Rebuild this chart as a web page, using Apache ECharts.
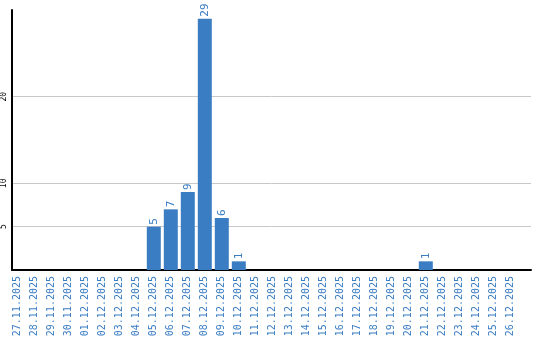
<!DOCTYPE html>
<html>
<head>
<meta charset="utf-8">
<script src="https://cdn.jsdelivr.net/npm/echarts@6/dist/echarts.min.js"></script>
<style>html,body{margin:0;padding:0;background:#fff}#c{width:540px;height:340px}</style>
</head>
<body>
<div id="c"></div>
<script>
var categories = ['27.11.2025','28.11.2025','29.11.2025','30.11.2025','01.12.2025','02.12.2025','03.12.2025','04.12.2025','05.12.2025','06.12.2025','07.12.2025','08.12.2025','09.12.2025','10.12.2025','11.12.2025','12.12.2025','13.12.2025','14.12.2025','15.12.2025','16.12.2025','17.12.2025','18.12.2025','19.12.2025','20.12.2025','21.12.2025','22.12.2025','23.12.2025','24.12.2025','25.12.2025','26.12.2025'];
var values = [0,0,0,0,0,0,0,0,5,7,9,29,6,1,0,0,0,0,0,0,0,0,0,0,1,0,0,0,0,0];
var yTickLabels = [5,10,20];

var blue = '#3b7dc3';
var mono = 'DejaVu Sans Mono';
var chart = echarts.init(document.getElementById('c'), null, {renderer:'canvas'});
chart.setOption({
  animation: false,
  grid: [
    {left: 11, top: 10, width: 520, height: 260},
    {left: 9.3, top: 10, width: 510, height: 260}
  ],
  xAxis: [
    {gridIndex: 0, type: 'value', min: 0, max: 1,
     axisLine: {show: true, lineStyle: {color: '#000', width: 2}},
     axisTick: {show: false}, axisLabel: {show: false}, splitLine: {show: false}},
    {gridIndex: 1, type: 'category', data: categories,
     axisLine: {show: false}, axisTick: {show: false},
     axisLabel: {interval: 0, rotate: 90, margin: 6, color: blue, fontFamily: mono, fontSize: 10}}
  ],
  yAxis: [
    {gridIndex: 0, type: 'value', min: 0, max: 30, interval: 5,
     axisLine: {show: true, lineStyle: {color: '#000', width: 2}},
     axisTick: {show: false},
     axisLabel: {rotate: 90, margin: 4, color: '#000', fontFamily: mono, fontSize: 8,
       formatter: function (v) { return yTickLabels.indexOf(v) >= 0 ? String(v) : ''; }},
     splitLine: {show: true, lineStyle: {width: 1,
       color: [0,5,10,15,20,25,30].map(function (v) { return yTickLabels.indexOf(v) >= 0 ? '#c8c8c8' : 'rgba(0,0,0,0)'; })}}},
    {gridIndex: 1, type: 'value', min: 0, max: 30, show: false, splitLine: {show: false}}
  ],
  series: [{
    type: 'bar', xAxisIndex: 1, yAxisIndex: 1,
    data: values.map(function (v) { return v === 0 ? null : v; }),
    barWidth: 14,
    itemStyle: {color: blue},
    label: {show: true, position: 'top', rotate: 90, align: 'left', verticalAlign: 'middle',
      distance: 2, color: blue, fontFamily: mono, fontSize: 11}
  }]
});
</script>
</body>
</html>
